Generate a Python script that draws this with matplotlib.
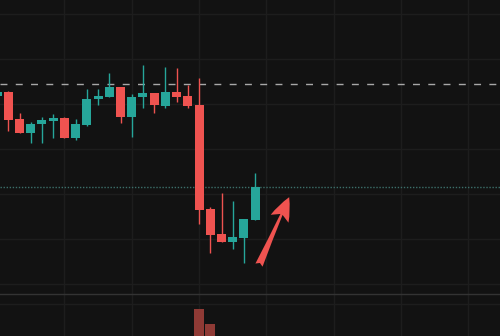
import matplotlib
matplotlib.use("Agg")
import matplotlib.pyplot as plt
import numpy as np

# ---- data (unlabeled price axis) ----
opens  = [98.092, 98.133, 97.830, 97.681, 97.774, 97.814, 97.848, 97.619, 97.767, 98.052,
          98.081, 98.192, 97.859, 98.074, 98.117, 97.978, 98.137, 98.089, 97.989, 96.833,
          96.556, 96.472, 96.508, 96.711]
highs  = [98.150, 98.140, 97.897, 97.800, 97.856, 97.889, 97.856, 97.830, 98.167, 98.163,
          98.341, 98.192, 98.108, 98.433, 98.117, 98.414, 98.397, 98.208, 98.289, 96.856,
          97.008, 96.922, 96.719, 97.230]
lows   = [98.080, 97.700, 97.674, 97.567, 97.570, 97.626, 97.619, 97.600, 97.756, 97.989,
          98.075, 97.786, 97.637, 97.952, 97.902, 97.952, 98.026, 97.952, 96.667, 96.341,
          96.467, 96.386, 96.237, 96.711]
closes = [98.130, 97.822, 97.681, 97.778, 97.822, 97.848, 97.626, 97.778, 98.056, 98.089,
          98.192, 97.859, 98.081, 98.117, 97.986, 98.137, 98.081, 97.981, 96.822, 96.544,
          96.472, 96.519, 96.719, 97.074]
volumes = [10, 11, 9, 8, 7, 8, 10, 9, 12, 8,
           11, 13, 12, 9, 8, 10, 9, 11, 45.5, 32.1,
           18, 14, 16, 19]
ref_level = 98.222          # dashed horizontal level
price_grid = [96.0, 96.5, 97.0, 97.5, 98.0, 98.5, 99.0]
time_grid = [0, 6, 12, 18, 24, 30, 36, 42]
arrow_tail = (23.34, 96.21)
arrow_tip = (26.03, 96.965)

BG = "#121212"
GRID = "#1d1d1d"
UP = "#26a69a"
DOWN = "#ef5350"
UP_VOL = "#1f5f58"
DOWN_VOL = "#8f3a35"

plt.rcParams["lines.scale_dashes"] = False

W, H = 500, 336
fig = plt.figure(figsize=(W / 100, H / 100), dpi=100, facecolor=BG)

sep_px = 293
ax = fig.add_axes([0, (H - sep_px) / H, 1, sep_px / H])
vol_bottom_px = 360
axv = fig.add_axes([0, (H - vol_bottom_px) / H, 1, (vol_bottom_px - sep_px) / H])

x_left, x_right = 0.258, 44.82
for a in (ax, axv):
    a.set_facecolor(BG)
    a.set_xlim(x_left, x_right)
    for s in a.spines.values():
        s.set_visible(False)
    a.set_xticks([])
    a.set_yticks([])
    for t in time_grid:
        a.axvline(t, color=GRID, lw=1.0, zorder=0)

ax.set_ylim(95.9, 99.156)
for g in price_grid:
    ax.axhline(g, color=GRID, lw=1.0, zorder=0)

x = np.arange(len(opens))
o = np.array(opens); c = np.array(closes)
hi = np.array(highs); lo = np.array(lows)
up = c >= o
colors = np.where(up, UP, DOWN)

ax.vlines(x, lo, hi, colors=colors, lw=1.0, zorder=2)
bottom = np.minimum(o, c)
height = np.maximum(np.abs(c - o), 0.012)
ax.bar(x, height, bottom=bottom, width=0.8, color=colors, zorder=3, linewidth=0)

# reference dashed line and last-price dotted line
ax.axhline(ref_level, color="#a8a8a8", lw=1.0, dashes=(5, 6), zorder=1)
ax.axhline(closes[-1], color="#3c6f6a", lw=1.0, dashes=(1, 1.2), zorder=1)

# arrow annotation
ax.annotate("", xy=arrow_tip, xytext=arrow_tail,
            arrowprops=dict(arrowstyle="fancy,head_length=0.85,head_width=0.7,tail_width=0.28",
                            mutation_scale=20, color=DOWN, lw=0, shrinkA=0, shrinkB=0),
            zorder=5)

# volume pane
axv.set_ylim(0, 59.8)
axv.axhline(50, color=GRID, lw=1.0, zorder=0)
vcol = np.where(up, UP_VOL, DOWN_VOL)
axv.bar(x, volumes, width=0.9, color=vcol, linewidth=0, zorder=2)

# pane border
fig.add_artist(plt.Line2D([0, 1], [1 - 293.5 / H] * 2, color="#333333", lw=1.0,
                          transform=fig.transFigure))

fig.savefig("out.png", dpi=100, facecolor=BG)
